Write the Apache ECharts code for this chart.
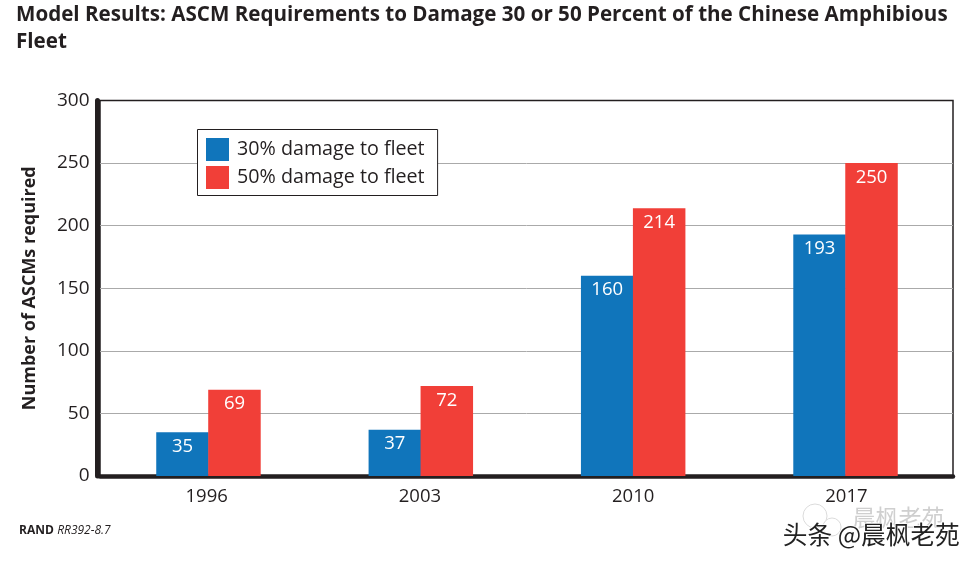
<!DOCTYPE html>
<html><head><meta charset="utf-8">
<script src="https://cdn.jsdelivr.net/npm/echarts@6/dist/echarts.min.js"></script>
<style>html,body{margin:0;padding:0;background:#fff}#c{width:977px;height:565px}</style>
</head><body><div id="c"></div>
<script>
const years = ['1996','2003','2010','2017'];
const damage30 = [35,37,160,193];
const damage50 = [69,72,214,250];
const name30 = '30% damage to fleet';
const name50 = '50% damage to fleet';
const titleText = 'Model Results: ASCM Requirements to Damage 30 or 50 Percent of the Chinese Amphibious\nFleet';
const yAxisTitle = 'Number of ASCMs required';
const INK = '#231f20';
const FONT = '"Open Sans","Noto Sans",sans-serif';
const chart = echarts.init(document.getElementById('c'), null, {renderer:'canvas'});
const barLabel = {show:true, position:'insideTop', distance:5, color:'#fff', fontSize:18.5, fontFamily:FONT};
chart.setOption({
  animation:false,
  backgroundColor:'#fff',
  title:{text:titleText, left:16, top:2, padding:0, textStyle:{fontFamily:FONT, fontWeight:'bold', fontSize:20.6, lineHeight:27, color:INK}},
  legend:{left:197.5, top:129.5, orient:'vertical', itemWidth:23, itemHeight:23, itemGap:5,
    padding:[8.5,13,6.5,8.5], borderColor:INK, borderWidth:1, borderRadius:0, backgroundColor:'#fff', z:10,
    textStyle:{fontFamily:FONT, fontSize:19.7, color:INK, padding:[0,0,0,3]}, icon:'rect',
    data:[name30,name50]},
  grid:[
    {left:100, top:100.5, width:853, height:375.5, show:true, borderColor:INK, borderWidth:1.5, backgroundColor:'#fff'},
    {left:102.3, top:100.5, width:849.4, height:375.5}
  ],
  xAxis:[
    {gridIndex:0, type:'category', data:years, offset:2, axisLine:{lineStyle:{color:INK,width:4.5}}, axisTick:{show:false},
     axisLabel:{color:INK, fontFamily:FONT, fontSize:18.5, margin:9}},
    {gridIndex:1, type:'category', data:years, axisLine:{show:false}, axisTick:{show:false}, axisLabel:{show:false}}
  ],
  yAxis:[
    {gridIndex:0, type:'value', min:0, max:300, interval:50, offset:2.5,
     name:yAxisTitle, nameLocation:'middle', nameGap:59, nameRotate:90,
     nameTextStyle:{fontFamily:FONT, fontWeight:'bold', fontSize:18, color:INK},
     axisLine:{show:true, lineStyle:{color:INK,width:5}}, axisTick:{show:false},
     axisLabel:{color:INK, fontFamily:FONT, fontSize:19, margin:8},
     splitLine:{showMinLine:false, showMaxLine:false, lineStyle:{color:'#aaaaaa',width:1}}},
    {gridIndex:1, type:'value', min:0, max:300, interval:50, show:false}
  ],
  series:[
    {name:name30, type:'bar', xAxisIndex:1, yAxisIndex:1, data:damage30, barWidth:52.5, barGap:'-1%', itemStyle:{color:'#1075bb'}, label:barLabel},
    {name:name50, type:'bar', xAxisIndex:1, yAxisIndex:1, data:damage50, barWidth:52.5, barGap:'-1%', itemStyle:{color:'#f13f38'}, label:barLabel}
  ],
  graphic:[
    {type:'text', left:19, top:525, style:{rich:{a:{fontWeight:'bold',fontSize:12,fontFamily:FONT,fill:INK},b:{fontStyle:'italic',fontSize:12,fontFamily:FONT,fill:INK}}, text:'{a|RAND} {b|RR392-8.7}'}},
    {type:'circle', z:20, shape:{cx:815,cy:516,r:12}, style:{fill:'#fff',stroke:'#dcdcdc',lineWidth:1}},
    {type:'circle', z:20, shape:{cx:832,cy:527,r:9}, style:{fill:'#fff',stroke:'#dcdcdc',lineWidth:1}},
    {type:'text', left:852, top:505, z:20, style:{text:'晨枫老苑', fontSize:23, fontFamily:'"Noto Sans CJK SC"', fill:'#cfcfcf', stroke:'#fff', lineWidth:1}},
    {type:'text', left:782, top:522, z:21, style:{text:'头条 @晨枫老苑', fontSize:24.7, fontFamily:'"Noto Sans CJK SC"', fill:'#222', stroke:'#fff', lineWidth:1.5}}
  ]
});
</script></body></html>
